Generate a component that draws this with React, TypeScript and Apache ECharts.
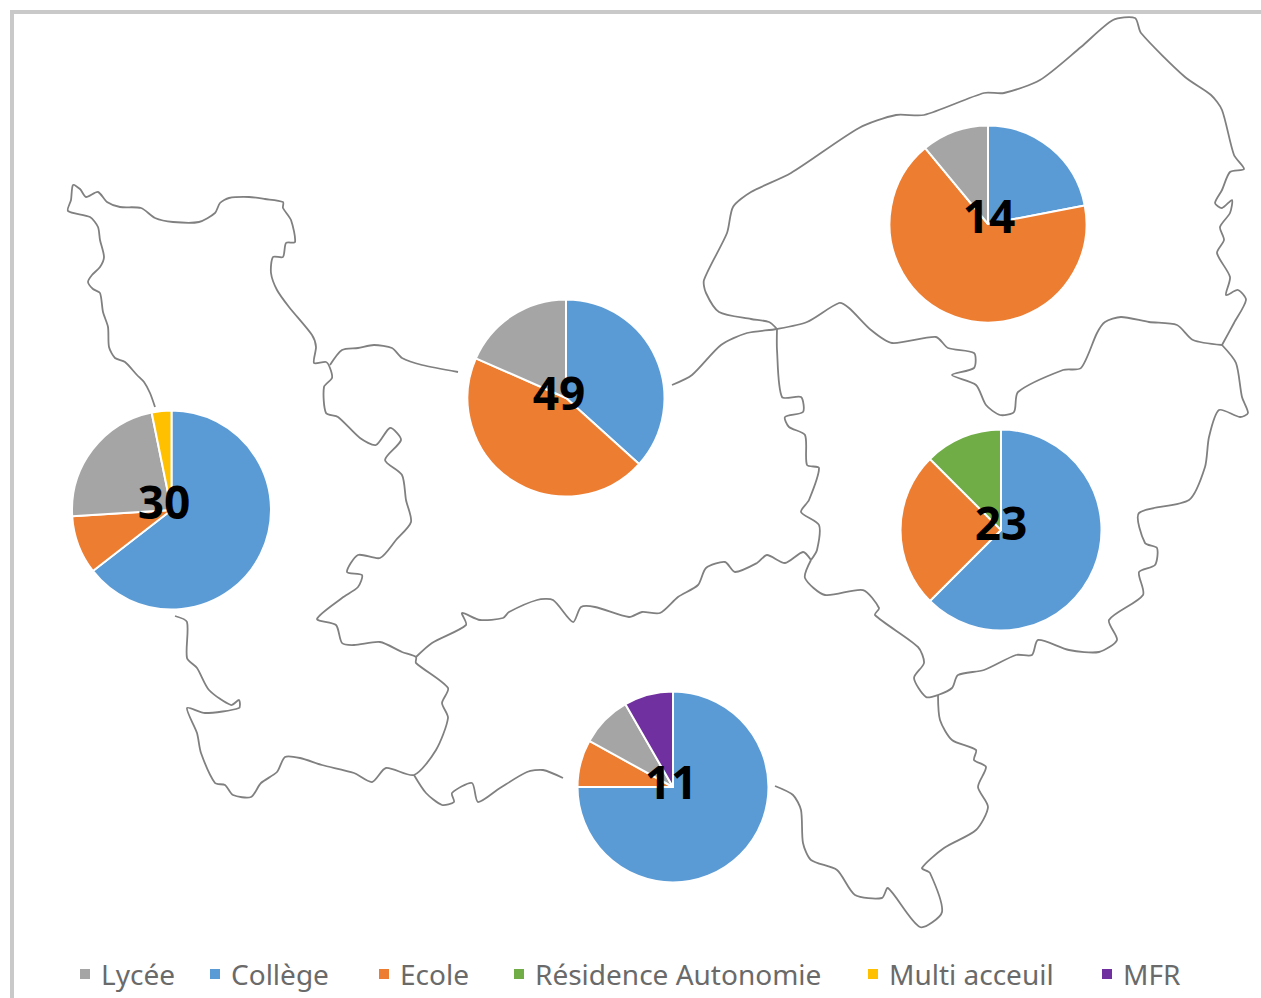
import React, { useEffect, useRef } from "react";
import * as echarts from "echarts";

// Shares of each school type per area, in percent
const areaTotals = [30, 49, 14, 23, 11];
const colleges = [64.5, 36.7, 22, 62.5, 75];
const ecoles = [9.5, 44.9, 67, 25, 8];
const residences = [0, 0, 0, 12.5, 0];
const lycees = [22.8, 18.4, 11, 0, 8.7];
const multis = [3.2, 0, 0, 0, 0];
const mfrs = [0, 0, 0, 0, 8.3];

const seriesNames = ["Collège", "Ecole", "Résidence Autonomie", "Lycée", "Multi acceuil", "MFR"];
const seriesValues = [colleges, ecoles, residences, lycees, multis, mfrs];
const seriesColors = ["#5B9BD5", "#ED7D31", "#70AD47", "#A5A5A5", "#FFC000", "#7030A0"];

const legendOrder = ["Lycée", "Collège", "Ecole", "Résidence Autonomie", "Multi acceuil", "MFR"];
const legendLefts = [78, 208, 377, 512, 866, 1100];

const pieCenters = [[171.5, 510], [566, 398], [988, 224], [1001, 530], [673, 787]];
const pieRadii = [99.5, 98.5, 98.5, 100.5, 95.5];
const labelCenters = [[164, 501], [559, 392], [989, 215], [1001, 522], [671, 781]];

// Outline of the map (background drawing, page pixels)
const manche = [[155,407],[150,393],[144,382],[137,375],[125,362],[115,358],[109,347],[108,327],[103,312],[100,293],[93,289],[88,282],[92,275],[100,267],[104,257],[100,240],[98,227],[90,217],[68,211],[71,200],[73,185],[80,189],[86,197],[98,192],[107,202],[120,207],[141,208],[155,218],[173,222],[199,222],[215,213],[220,203],[229,198],[249,197],[265,199],[283,202],[283,208],[291,220],[295,242],[286,243],[283,257],[273,257],[271,273],[277,290],[289,307],[312,335],[316,347],[314,363],[326,362],[330,368],[332,378],[324,387],[326,413],[338,417],[360,438],[376,445],[390,428],[401,440],[385,460],[402,475],[406,500],[411,522],[396,540],[380,558],[358,555],[347,572],[362,575],[358,587],[342,598],[317,619],[336,625],[342,643],[354,645],[380,642],[402,652],[416,657],[416,663],[448,688],[442,703],[448,718],[436,750],[414,775],[386,768],[372,782],[354,773],[322,765],[300,758],[285,757],[277,772],[261,783],[251,797],[233,795],[225,785],[215,783],[201,753],[197,733],[187,708],[205,713],[239,708],[239,700],[231,705],[209,690],[197,668],[187,658],[187,622],[175,616]];
const calvadosTop = [[330,365],[342,350],[358,348],[374,345],[392,348],[402,358],[422,365],[458,372]];
const seineBorder = [[672,385],[692,375],[721,345],[747,333],[777,329],[807,322],[839,303],[849,308],[871,330],[892,343],[936,337],[948,348],[974,353],[974,368],[952,375],[976,385],[986,405],[1000,415],[1014,412],[1018,392],[1063,370],[1081,368],[1097,333],[1105,322],[1121,317],[1149,322],[1177,325],[1193,340],[1222,345]];
const seineCoast = [[777,329],[769,322],[751,319],[719,312],[706,293],[704,280],[727,233],[733,207],[751,192],[791,173],[859,128],[896,115],[924,115],[984,93],[1004,93],[1040,80],[1081,47],[1113,20],[1135,18],[1141,33],[1185,77],[1211,95],[1222,110],[1234,155],[1244,169],[1230,172],[1222,190],[1215,203],[1222,208],[1232,200],[1230,213],[1220,227],[1224,240],[1217,253],[1230,277],[1226,295],[1238,290],[1246,300],[1234,323],[1222,345]];
const eureOuter = [[1222,345],[1236,363],[1242,397],[1248,413],[1240,417],[1219,410],[1209,437],[1205,467],[1189,500],[1139,513],[1145,543],[1157,548],[1155,565],[1139,572],[1143,595],[1109,620],[1117,640],[1099,652],[1069,650],[1038,640],[1032,655],[1016,655],[984,670],[958,675],[952,688],[938,695],[926,697],[914,678],[924,663],[918,647],[875,615],[879,608],[863,590],[825,595],[805,578],[811,560]];
const eureLeft = [[777,329],[777,350],[782,397],[801,397],[803,412],[785,417],[789,427],[805,435],[807,465],[819,468],[809,500],[801,512],[819,525],[817,550],[811,560]];
const orneTop = [[811,560],[803,552],[785,563],[767,555],[757,563],[735,572],[725,562],[706,568],[698,585],[678,597],[660,613],[642,612],[629,617],[595,607],[581,607],[573,622],[553,600],[537,600],[509,612],[503,618],[480,620],[462,613],[466,625],[432,643],[416,657]];
const orneBottom = [[414,775],[426,793],[442,805],[454,802],[452,793],[472,783],[478,802],[500,788],[527,772],[543,770],[563,778]];
const orneRight = [[938,695],[940,720],[952,740],[976,750],[974,760],[986,767],[978,787],[988,807],[976,830],[944,848],[922,868],[930,873],[942,912],[920,927],[888,888],[882,898],[855,895],[837,870],[811,860],[803,843],[801,810],[793,795],[775,786]];
const outlines = [manche, calvadosTop, seineBorder, seineCoast, eureOuter, eureLeft, orneTop, orneBottom, orneRight];
const frame = [[12,998],[12,12],[1261,12]];

export default function App() {
  const ref = useRef<HTMLDivElement>(null);
  useEffect(() => {
    const chart = echarts.init(ref.current!, undefined, { renderer: "svg" });
    chart.setOption({
      animation: false,
      backgroundColor: "#ffffff",
      color: seriesColors,
      legend: legendOrder.map((name, i) => ({
        data: [name],
        left: legendLefts[i],
        top: 960,
        padding: 0,
        icon: "rect",
        itemWidth: 12,
        itemHeight: 12,
        itemGap: 0,
        selectedMode: false,
        textStyle: { fontFamily: "'Noto Sans', sans-serif", fontSize: 28, color: "#6a6a6a", padding: [0, 0, 0, 5] },
      })),
      series: areaTotals.map((_, a) => ({
        type: "pie",
        center: pieCenters[a],
        radius: [0, pieRadii[a]],
        startAngle: 90,
        clockwise: true,
        silent: true,
        label: { show: false },
        labelLine: { show: false },
        itemStyle: { borderColor: "#ffffff", borderWidth: 2 },
        data: seriesNames
          .map((name, s) => ({ name, value: seriesValues[s][a], itemStyle: { color: seriesColors[s] } }))
          .filter((d) => d.value > 0),
      })),
      graphic: [
        {
          type: "polyline",
          z: 0,
          silent: true,
          shape: { points: frame },
          style: { stroke: "#c9c9c9", lineWidth: 4, fill: "none" },
        },
        ...outlines.map((points) => ({
          type: "polyline",
          z: 0,
          silent: true,
          shape: { points, smooth: 0.25 },
          style: { stroke: "#808080", lineWidth: 1.8, fill: "none", lineJoin: "round" },
        })),
        ...areaTotals.map((total, a) => ({
          type: "text",
          z: 100,
          silent: true,
          x: labelCenters[a][0],
          y: labelCenters[a][1],
          style: {
            text: String(total),
            fontFamily: "'Open Sans', sans-serif",
            fontWeight: "bold",
            fontSize: 46,
            fill: "#000000",
            align: "center",
            verticalAlign: "middle",
          },
        })),
      ],
    });
    return () => chart.dispose();
  }, []);
  return <div ref={ref} style={{ position: "absolute", left: 0, top: 0, width: 1261, height: 998 }} />;
}
